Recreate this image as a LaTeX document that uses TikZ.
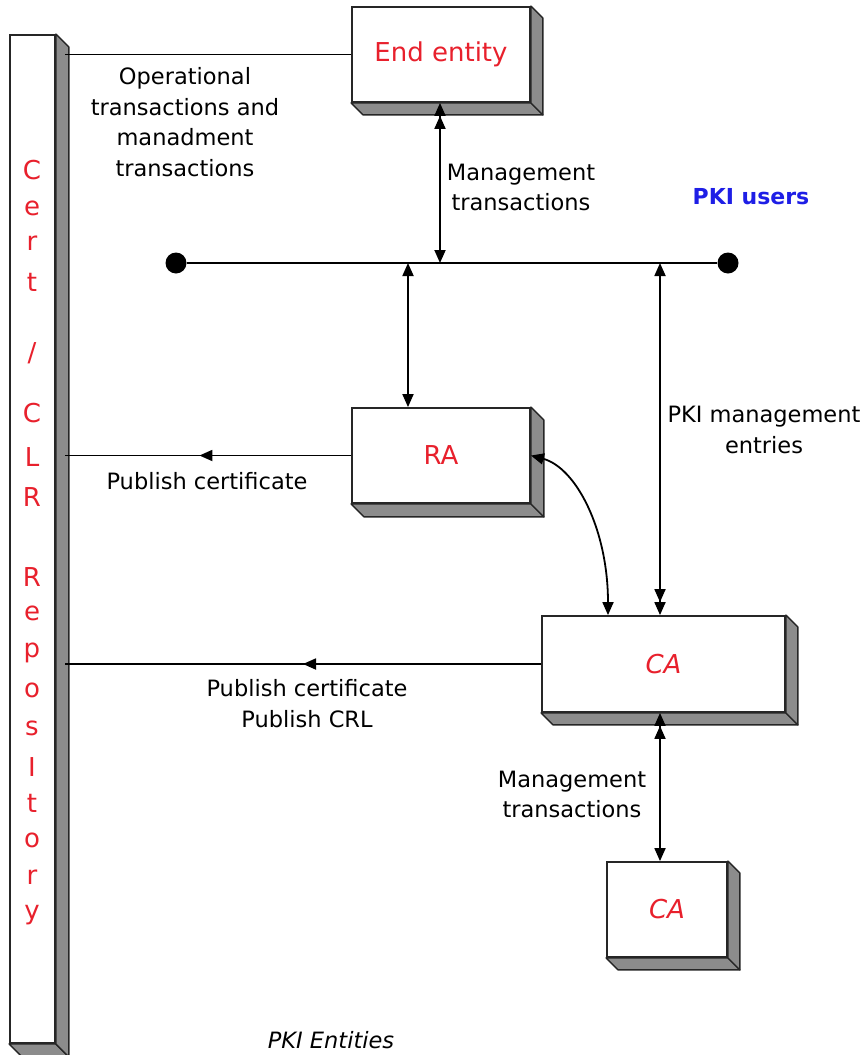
\documentclass[tikz,border=0pt]{standalone}
\usepackage{fontspec}
\setmainfont{DejaVu Sans}
\usetikzlibrary{arrows.meta,decorations.markings}
\definecolor{lblred}{RGB}{232,32,44}
\definecolor{lblblue}{RGB}{30,30,230}
\definecolor{shadegray}{RGB}{140,140,140}
\newcommand\boxshade[2]{%
  \filldraw[shadeface] (#1.south west) -- (#1.south east) -- ([shift={(#2,#2)}]#1.south east) -- ([shift={(#2,#2)}]#1.south west) -- cycle;
  \filldraw[shadeface] (#1.north east) -- ([shift={(#2,#2)}]#1.north east) -- ([shift={(#2,#2)}]#1.south east) -- (#1.south east) -- cycle;}
\begin{document}
\begin{tikzpicture}[x=1pt,y=-1pt,
  >={Triangle[length=13pt,width=11pt]},
  box/.style={draw=black!85, line width=1.8pt, fill=white, inner sep=0pt,
    font=\fontsize{26}{30}\selectfont, text=lblred},
  shadeface/.style={fill=shadegray, draw=black!85, line width=1.4pt, line join=round},
  lbl/.style={font=\fontsize{22.5}{30.7}\selectfont, align=center, inner sep=0pt},
  barletter/.style={font=\fontsize{26}{30}\selectfont, text=lblred, inner sep=0pt},
  conn/.style={line width=1.8pt},
  midarrow/.style={postaction={decorate}, decoration={markings,
    mark=at position #1 with {\arrow{Triangle[length=13pt,width=11pt]}}}},
  busdot/.style={circle, fill=black, minimum size=21pt, inner sep=0pt}
]
\useasboundingbox (0,0) rectangle (863,1055);
\fill[white] (0,0) rectangle (863,1055);

% repository bar
\node[box, minimum width=45pt, minimum height=1008pt] (bar) at (32.5,539) {};
\boxshade{bar}{13}
\foreach \ch/\yy in {C/170,e/208,r/243,t/282,C/413,L/457,R/497,R/577,e/613,p/653,o/690,s/728,I/767,t/803,o/840,r/877,y/915}
  \node[barletter] (bl\yy) at (32,\yy) {\ch};
\node[barletter] (slash) at (32,353) {/};

% boxes
\node[box, minimum width=178pt, minimum height=95pt] (ee) at (441,54.5) {End entity};
\boxshade{ee}{12}
\node[box, minimum width=178pt, minimum height=95pt] (ra) at (441,455.5) {RA};
\boxshade{ra}{13}
\node[box, minimum width=243pt, minimum height=96pt, font=\fontsize{26}{30}\selectfont\itshape] (ca) at (663.5,664) {CA};
\boxshade{ca}{12}
\node[box, minimum width=120pt, minimum height=95pt, font=\fontsize{26}{30}\selectfont\itshape] (ca2) at (667,909.5) {CA};
\boxshade{ca2}{12}

% bus
\node[busdot] (d1) at (176,263) {};
\node[busdot] (d2) at (728,263) {};
\draw[line width=2.2pt] (d1) -- (d2);

% helper coordinates
\coordinate (barR) at ([xshift=9pt]bar.east);
\coordinate (eeBot) at ([xshift=-1pt]ee.south);
\coordinate (raTop) at ([xshift=-33pt]ra.north);
\coordinate (caTop) at ([xshift=-3.5pt]ca.north);
\coordinate (caBot) at ([xshift=-3.5pt]ca.south);
\coordinate (raSide) at (ra.east);
\coordinate (caCurve) at ([xshift=-55.5pt]ca.north);

% vertical connectors
\draw[conn, <<->] (eeBot) -- (eeBot |- d1);
\draw[conn, <->] (raTop |- d1) -- (raTop);
\draw[conn, <->>] (caTop |- d1) -- (caTop);
\draw[conn, <<->] (caBot) -- (caBot |- ca2.north);
\draw[conn, <->] (raSide) .. controls +(45,12) and +(0,-86) .. (caCurve);

% connectors to repository
\draw[conn] (ee.west) -- (ee.west -| barR);
\draw[conn, midarrow=0.53] (ra.west) -- (ra.west -| barR);
\draw[conn, midarrow=0.5] (ca.west) -- (ca.west -| barR);

% labels
\node[lbl] (opl) at (185,122) {Operational\\transactions and\\manadment\\transactions};
\node[lbl] (mt1) at (521,187.5) {Management\\transactions};
\node[lbl, font=\fontsize{22}{25}\selectfont\bfseries, text=lblblue] (users) at (751,197) {PKI users};
\node[lbl] (pme) at (764,430) {PKI management\\entries};
\node[lbl] (pc1) at (207,481) {Publish certificate};
\node[lbl] (pc2) at (307,703.5) {Publish certificate\\Publish CRL};
\node[lbl] (mt2) at (572,794.5) {Management\\transactions};
\node[lbl, font=\fontsize{22.5}{25}\selectfont\itshape] (title) at (331,1040) {PKI Entities};
\end{tikzpicture}
\end{document}
